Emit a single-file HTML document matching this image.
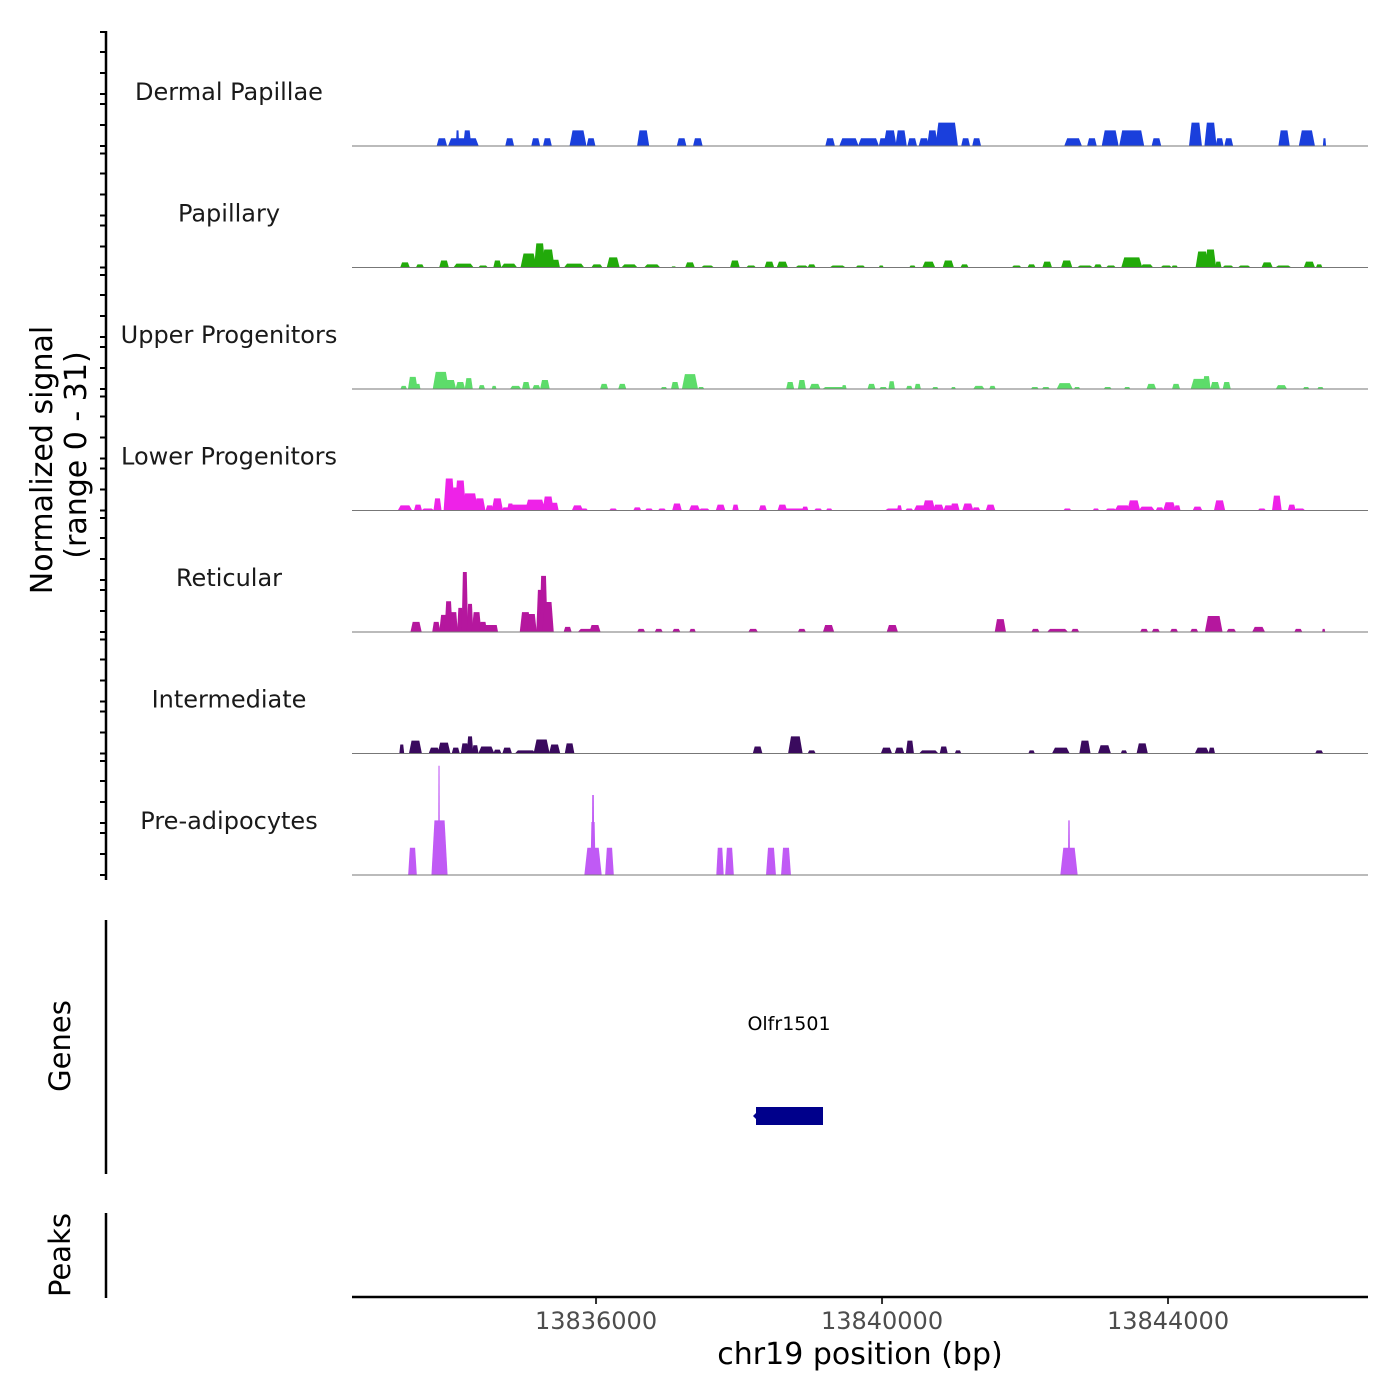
<!DOCTYPE html>
<html><head><meta charset="utf-8"><style>
html,body{margin:0;padding:0;background:#fff;}
svg{display:block;font-family:"DejaVu Sans","Liberation Sans",sans-serif;}
</style></head><body>
<svg id="chart" width="1400" height="1400" viewBox="0 0 1400 1400">
</svg>
<script>
// x tick labels and genomic domain
const xTicks = [13836000, 13840000, 13844000];
const trackNames = ["Dermal Papillae","Papillary","Upper Progenitors","Lower Progenitors","Reticular","Intermediate","Pre-adipocytes"];
const trackColors = ["#1a3fdc","#22aa0a","#5ddc6a","#ee22e8","#b5179e","#3a0a5e","#c05af5"];
// peaks: [center bp, width bp, normalized signal]
const dermalPapillae = [[13833844,118,2],[13834145,346,2],[13834063,36,4],[13834199,91,4],[13834792,100,2],[13835156,100,2],[13835320,100,2],[13835748,191,4],[13835930,100,2],[13836659,137,4],[13837197,109,2],[13837424,109,2],[13839274,109,2],[13839538,219,2],[13839811,237,2],[13840012,91,2],[13840112,146,4],[13840267,128,4],[13840422,109,2],[13840586,118,2],[13840704,118,4],[13840904,255,6],[13841169,100,2],[13841323,100,2],[13842672,200,2],[13842936,109,2],[13843191,191,4],[13843492,282,4],[13843838,109,2],[13844384,146,6],[13844594,137,6],[13844722,91,2],[13844849,100,2],[13845623,128,4],[13845942,182,4],[13846188,36,2]];
const papillary = [[13833328,109,1.3],[13833537,91,0.8],[13833874,109,1.8],[13834147,228,1],[13834420,109,0.5],[13834620,91,1.8],[13834784,182,1],[13835057,182,3.6],[13835212,127,6.2],[13835330,146,4.6],[13835439,91,2],[13835694,228,1],[13836013,127,0.8],[13836240,146,2.6],[13836468,182,0.8],[13836786,182,0.8],[13837086,55,0.3],[13837314,109,1.3],[13837560,146,0.5],[13837942,109,1.8],[13838169,109,0.5],[13838424,109,1.5],[13838606,127,1.5],[13838879,146,0.5],[13839016,91,0.8],[13839380,182,0.5],[13839698,109,0.5],[13839989,55,0.5],[13840426,73,0.5],[13840654,146,1.5],[13840927,127,1.8],[13841154,91,0.8],[13841882,109,0.5],[13842091,91,0.8],[13842310,109,1.5],[13842583,127,1.8],[13842838,182,0.5],[13843020,91,0.8],[13843202,109,0.5],[13843493,237,2.6],[13843702,146,0.8],[13843975,127,0.5],[13844093,73,0.5],[13844476,146,4.1],[13844594,127,4.6],[13844703,73,1.5],[13844840,127,0.5],[13845067,146,0.5],[13845386,127,1.3],[13845613,182,0.5],[13845977,127,1.5],[13846114,73,0.8]];
const upperProgenitors = [[13833310,73,0.8],[13833437,109,3.1],[13833510,55,1.3],[13833829,182,4.4],[13833965,127,2.3],[13834102,109,1.8],[13834220,91,2.8],[13834402,73,1],[13834575,55,0.8],[13834875,127,0.8],[13835021,91,1.8],[13835166,91,1],[13835285,109,2.3],[13836113,91,1.3],[13836367,91,1.3],[13836950,73,0.5],[13837105,91,1.8],[13837314,182,3.8],[13837469,73,0.5],[13838715,91,1.8],[13838879,91,2.3],[13839061,127,1.3],[13839334,273,0.5],[13839471,55,1],[13839853,91,1.3],[13840017,91,0.5],[13840135,73,2],[13840381,73,0.8],[13840499,73,1.3],[13840745,73,0.5],[13840999,55,0.5],[13841354,127,0.8],[13841545,73,0.8],[13842137,91,0.5],[13842292,91,0.5],[13842555,182,1.5],[13842728,73,0.5],[13843156,91,0.5],[13843429,73,0.5],[13843766,109,1.3],[13844112,91,1.3],[13844430,182,2.6],[13844539,91,3.3],[13844658,109,1.8],[13844821,91,1.8],[13845586,127,1],[13845932,73,0.5],[13846132,73,0.5]];
const lowerProgenitors = [[13833328,164,1.3],[13833510,91,1.5],[13833647,146,0.5],[13833783,91,3.1],[13833947,127,8.2],[13834038,91,5.9],[13834102,127,7.7],[13834238,182,4.4],[13834375,127,3.1],[13834511,91,1.3],[13834620,127,3.1],[13834739,91,0.8],[13834802,73,1.8],[13834921,273,1.5],[13835148,228,2.8],[13835330,127,3.6],[13835421,91,2],[13835740,127,1.3],[13835831,91,0.5],[13836240,91,0.5],[13836577,91,0.8],[13836741,91,0.5],[13836923,91,0.5],[13837132,109,1.8],[13837378,127,1.3],[13837514,127,0.5],[13837742,109,1.5],[13837951,73,1.5],[13838333,91,1.3],[13838606,109,1.5],[13838788,273,0.5],[13838925,73,1],[13839107,91,0.5],[13839261,73,0.5],[13840153,182,0.5],[13840244,55,1.3],[13840381,91,0.5],[13840535,146,1.3],[13840654,146,2.6],[13840790,127,1.5],[13840927,109,1.3],[13841018,109,1.8],[13841200,127,1.8],[13841318,91,0.8],[13841518,109,1.5],[13842592,91,0.5],[13842992,73,0.5],[13843202,127,0.5],[13843366,182,1.3],[13843520,146,2.6],[13843702,182,1],[13843884,91,0.8],[13844021,146,2.1],[13844130,73,1.3],[13844412,109,1],[13844721,127,2.6],[13845313,91,0.5],[13845522,109,3.8],[13845731,91,1.5],[13845841,127,0.5]];
const reticular = [[13833483,127,2.6],[13833765,91,2.6],[13833874,109,4.4],[13833938,91,7.9],[13834011,91,5.1],[13834102,73,6.2],[13834165,73,15.4],[13834238,73,7.2],[13834329,109,5.1],[13834420,91,2.6],[13834511,146,1.8],[13834584,73,1.8],[13835012,127,5.1],[13835103,109,4.6],[13835221,91,10.8],[13835266,91,14.4],[13835330,127,7.7],[13835603,91,1.3],[13835858,182,0.8],[13835985,127,1.8],[13836631,91,0.8],[13836877,91,0.8],[13837123,91,0.8],[13837350,73,0.8],[13838197,109,0.8],[13838879,91,0.8],[13839252,127,1.8],[13840144,127,1.8],[13841655,127,3.3],[13842146,91,0.8],[13842455,237,0.8],[13842701,91,0.8],[13843666,91,0.8],[13843829,91,0.8],[13844084,91,0.8],[13844366,91,0.8],[13844639,200,4.1],[13844885,109,0.8],[13845267,146,1.3],[13845822,91,0.8],[13846177,36,0.8]];
const intermediate = [[13833283,55,2.3],[13833474,146,3.3],[13833738,127,1.5],[13833874,146,2.8],[13834038,91,1.5],[13834165,91,2.6],[13834238,73,4.4],[13834311,73,2.1],[13834466,182,1.8],[13834620,91,1],[13834757,109,1.5],[13835012,237,0.8],[13835239,182,3.6],[13835421,127,2.3],[13835630,109,2.6],[13838260,109,1.8],[13838788,164,4.4],[13839016,91,0.8],[13840062,127,1.5],[13840244,109,1.5],[13840390,91,3.3],[13840654,218,0.8],[13840863,91,1.8],[13841063,73,0.8],[13842092,73,0.8],[13842501,200,1.5],[13842838,127,3.3],[13843111,146,2.1],[13843384,73,0.8],[13843639,127,2.6],[13844476,164,1.5],[13844612,73,1.5],[13846114,91,0.8]];
const preAdipocytes = [[13833433,98,7],[13833811,182,14],[13833804,20,28],[13835958,196,7],[13835958,60,13.6],[13835958,30,20.5],[13836188,98,7],[13837734,84,7],[13837867,98,7],[13838447,112,7],[13838657,112,7],[13842615,196,7],[13842615,25,14]];
const trackData = [dermalPapillae,papillary,upperProgenitors,lowerProgenitors,reticular,intermediate,preAdipocytes];

const NS = "http://www.w3.org/2000/svg";
const svg = document.getElementById("chart");
const xMin = 13832587, xMax = 13846797, pxL = 352, pxR = 1368;
function xScale(bp){ return pxL + (bp - xMin) * (pxR - pxL) / (xMax - xMin); }
const yPerUnit = 3.9;
const baselines = [146, 267.5, 389, 510.5, 632, 753.5, 875];
function yScale(v, b){ return b - v * yPerUnit; }
function mk(tag, attrs, parent){
  const e = document.createElementNS(NS, tag);
  for (const k in attrs) e.setAttribute(k, attrs[k]);
  (parent || svg).appendChild(e);
  return e;
}

trackData.forEach((peaks, ti) => {
  const b = baselines[ti];
  const g = mk("g", {});
  
  
  peaks.forEach(p => {
    const half = p[1] * 0.62;
    const x0 = xScale(p[0] - half), x1 = xScale(p[0] + half);
    const s = Math.min((x1 - x0) * 0.2, 3), y = yScale(p[2], b);
    const poly = mk("polygon", {points: `${x0},${b} ${x0+s},${y} ${x1-s},${y} ${x1},${b}`, fill: trackColors[ti]}, g);
    
    
  });
  const bl = mk("line", {x1: pxL, x2: pxR, y1: b, y2: b, stroke: "#777", "stroke-width": 1});
  
  
  const lab = mk("text", {x: 229, y: b - 46, "text-anchor": "middle", "font-size": 24, fill: "#1a1a1a"});
  lab.textContent = trackNames[ti];
  
  
  [114, 94, 73, 52, 42, 21, 0].forEach(o => {
    const t = mk("line", {x1: 100, x2: 106, y1: b - o, y2: b - o, stroke: "#000", "stroke-width": 2});
    
    
  });
});

xTicks.forEach(v => {
  const x = xScale(v);
  const t = mk("line", {x1: x, x2: x, y1: 1297, y2: 1304, stroke: "#333", "stroke-width": 2});
  
  
  const l = mk("text", {x: x, y: 1329, "text-anchor": "middle", "font-size": 24, fill: "#4d4d4d"});
  l.textContent = v;
  
  
});
</script>
<script>
(function(){
  const svg = document.getElementById("chart");
  svg.insertAdjacentHTML("beforeend", `
  <line x1="106" y1="31" x2="106" y2="880" stroke="#000" stroke-width="2.5"/>
  <text transform="translate(52,460) rotate(-90)" text-anchor="middle" font-size="30" fill="#000">Normalized signal</text>
  <text transform="translate(86,455) rotate(-90)" text-anchor="middle" font-size="30" fill="#000">(range 0 - 31)</text>
  <line x1="106" y1="920" x2="106" y2="1174" stroke="#000" stroke-width="2.5"/>
  <text transform="translate(70,1046) rotate(-90)" text-anchor="middle" font-size="29" fill="#000">Genes</text>
  <text x="789" y="1030" text-anchor="middle" font-size="19" fill="#000">Olfr1501</text>
  <rect x="756" y="1107" width="67" height="18" fill="#00008b"/>
  <polygon points="753,1116 757,1112 757,1120" fill="#00008b"/>
  <line x1="106" y1="1213" x2="106" y2="1298" stroke="#000" stroke-width="2.5"/>
  <text transform="translate(70,1255) rotate(-90)" text-anchor="middle" font-size="29" fill="#000">Peaks</text>
  <line x1="352" y1="1297" x2="1368" y2="1297" stroke="#000" stroke-width="2.5"/>
  <text x="860" y="1364" text-anchor="middle" font-size="30" fill="#000">chr19 position (bp)</text>
  `);
})();
</script>
</body></html>
